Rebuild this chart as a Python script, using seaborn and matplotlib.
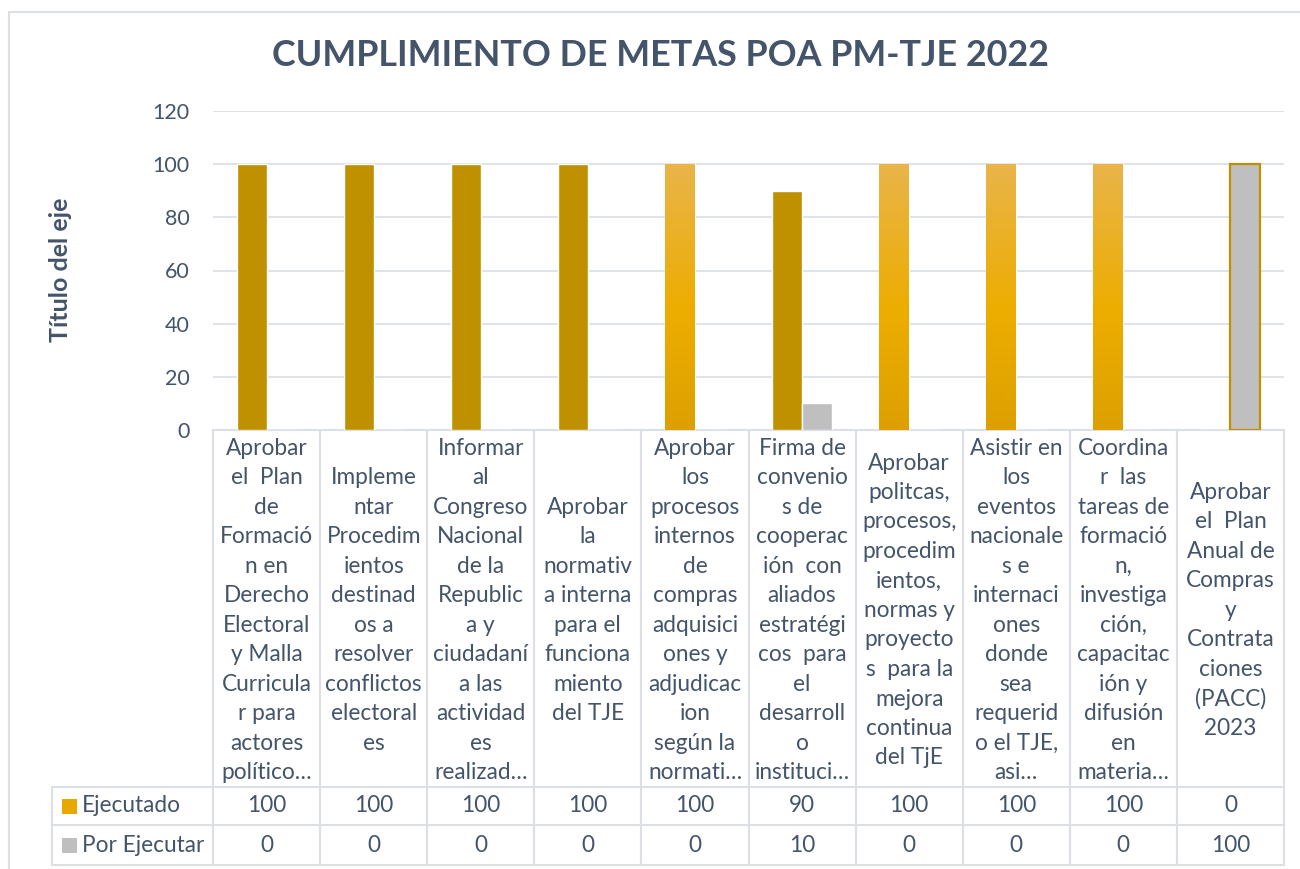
import numpy as np
import pandas as pd
import matplotlib
matplotlib.use("Agg")
import matplotlib.pyplot as plt
import matplotlib.transforms as mtransforms
from matplotlib.colors import LinearSegmentedColormap
import seaborn as sns

# ---------------- data ----------------
metas = [
    "Aprobar\nel  Plan\nde\nFormació\nn en\nDerecho\nElectoral\ny Malla\nCurricula\nr para\nactores\npolítico…",
    "Impleme\nntar\nProcedim\nientos\ndestinad\nos a\nresolver\nconflictos\nelectoral\nes",
    "Informar\nal\nCongreso\nNacional\nde la\nRepublic\na y\nciudadaní\na las\nactividad\nes\nrealizad…",
    "Aprobar\nla\nnormativ\na interna\npara el\nfunciona\nmiento\ndel TJE",
    "Aprobar\nlos\nprocesos\ninternos\nde\ncompras\nadquisici\nones y\nadjudicac\nion\nsegún la\nnormati…",
    "Firma de\nconvenio\ns de\ncooperac\nión  con\naliados\nestratégi\ncos  para\nel\ndesarroll\no\ninstituci…",
    "Aprobar\npolitcas,\nprocesos,\nprocedim\nientos,\nnormas y\nproyecto\ns  para la\nmejora\ncontinua\ndel TjE",
    "Asistir en\nlos\neventos\nnacionale\ns e\ninternaci\nones\ndonde\nsea\nrequerid\no el TJE,\nasi…",
    "Coordina\nr  las\ntareas de\nformació\nn,\ninvestiga\nción,\ncapacitac\nión y\ndifusión\nen\nmateria…",
    "Aprobar\nel  Plan\nAnual de\nCompras\ny\nContrata\nciones\n(PACC)\n2023",
]
ejecutado = [100, 100, 100, 100, 100, 90, 100, 100, 100, 0]
por_ejecutar = [0, 0, 0, 0, 0, 10, 0, 0, 0, 100]
series = ["Ejecutado", "Por Ejecutar"]
titulo = "CUMPLIMIENTO DE METAS POA PM-TJE 2022"
eje_y = "Título del eje"
y_ticks = [0, 20, 40, 60, 80, 100, 120]

# bars rendered with the lighter gradient fill in the original
gradient_bars = [4, 6, 7, 8]

# ---------------- styling ----------------
TXT = "#44546A"
GRID = "#DCE0E6"
C_EJ = "#BF9000"
C_POR = "#BFBFBF"

W, H = 1300, 869
DPI = 100

sns.set_theme(style="white")
plt.rcParams["font.family"] = ["Lato", "DejaVu Sans"]

ids = [f"m{i}" for i in range(len(metas))]
df = pd.DataFrame({
    "meta": ids * 2,
    "serie": [series[0]] * len(ids) + [series[1]] * len(ids),
    "valor": ejecutado + por_ejecutar,
})

fig = plt.figure(figsize=(W / DPI, H / DPI), dpi=DPI)

# plot area in pixels
L, R, T, B = 213, 1284, 111, 430
ax = fig.add_axes([L / W, 1 - B / H, (R - L) / W, (B - T) / H])

sns.barplot(data=df, x="meta", y="valor", hue="serie", order=ids,
            hue_order=series, palette={series[0]: C_EJ, series[1]: C_POR},
            width=0.56, legend=False, saturation=1, ax=ax, zorder=3)

ax.set_ylim(0, 120)
ax.set_xlim(-0.5, len(ids) - 0.5)
ax.set_yticks(y_ticks)
ax.yaxis.grid(True, color=GRID, lw=1.3, zorder=0)
ax.xaxis.grid(False)
for s in ax.spines.values():
    s.set_visible(False)
ax.tick_params(axis="y", length=0, pad=17, labelsize=15.5, labelcolor=TXT)
ax.tick_params(axis="x", length=0, labelbottom=False)
ax.set_xlabel("")
ax.set_ylabel("")

# gradient fill for the lighter bars
cmap = LinearSegmentedColormap.from_list(
    "g", [(0.0, "#DDA000"), (0.45, "#EDAD00"), (1.0, "#E9B44A")])
grad = np.linspace(0, 1, 256).reshape(-1, 1)
ej_bars = ax.containers[0]
por_bars = ax.containers[1]
for i in gradient_bars:
    p = ej_bars[i]
    x0, y0 = p.get_x(), p.get_y()
    w, h = p.get_width(), p.get_height()
    im = ax.imshow(grad, cmap=cmap, origin="lower", aspect="auto",
                   extent=(x0, x0 + w, y0, y0 + h), zorder=3.5)
    im.set_clip_path(p)
ax.set_xlim(-0.5, len(ids) - 0.5)
ax.set_ylim(0, 120)

# outlined grey bar of the last category
por_bars[len(ids) - 1].set_edgecolor(C_EJ)
por_bars[len(ids) - 1].set_linewidth(1.6)

# ---------------- data table ----------------
def ay(ypx):
    return (B - ypx) / (B - T)

trans = mtransforms.blended_transform_factory(ax.transData, ax.transAxes)
row1, row2, row3 = 787, 825, 865
HEAD_L = 52
line_kw = dict(color=GRID, lw=1.5, clip_on=False, zorder=1)

# horizontal lines
ax.plot([0, 1], [ay(B), ay(B)], transform=ax.transAxes, **line_kw)
for yy in (row1, row2, row3):
    x0 = (HEAD_L - L) / (R - L)
    ax.plot([x0, 1], [ay(yy), ay(yy)], transform=ax.transAxes, **line_kw)
# vertical lines
for k in range(len(ids) + 1):
    xv = k - 0.5
    ax.plot([xv, xv], [ay(B), ay(row3)], transform=trans, **line_kw)
xh = (HEAD_L - L) / (R - L)
ax.plot([xh, xh], [ay(row1), ay(row3)], transform=ax.transAxes, **line_kw)

FS = 16.3
for k, lab in enumerate(metas):
    ax.text(k, ay((B + row1) / 2 + 2), lab, transform=trans, ha="center",
            va="center", fontsize=FS, color=TXT, linespacing=1.50,
            clip_on=False)
    ax.text(k, ay((row1 + row2) / 2), f"{ejecutado[k]}", transform=trans,
            ha="center", va="center", fontsize=FS, color=TXT, clip_on=False)
    ax.text(k, ay((row2 + row3) / 2), f"{por_ejecutar[k]}", transform=trans,
            ha="center", va="center", fontsize=FS, color=TXT, clip_on=False)

# legend keys + row headers
for (yy0, yy1), name, col in [((row1, row2), series[0], "#E8A800"),
                              ((row2, row3), series[1], C_POR)]:
    yc = (yy0 + yy1) / 2
    fig.patches.append(plt.Rectangle((62 / W, 1 - (yc + 7.5) / H), 15 / W, 15 / H,
                                     transform=fig.transFigure, facecolor=col,
                                     edgecolor="none"))
    fig.text(82 / W, 1 - yc / H, name, ha="left", va="center", fontsize=FS,
             color=TXT)

# ---------------- titles ----------------
fig.text(660 / W, 1 - 56 / H, titulo, ha="center", va="center",
         fontsize=25.8, fontweight="bold", color=TXT)
fig.text(60 / W, 1 - 270 / H, eje_y, ha="center", va="center", rotation=90,
         fontsize=18, fontweight="bold", color=TXT)

# outer chart frame (top & left visible)
fig.add_artist(plt.Line2D([9 / W, 1], [1 - 12 / H, 1 - 12 / H],
                          transform=fig.transFigure, color=GRID, lw=1.5))
fig.add_artist(plt.Line2D([9 / W, 9 / W], [0, 1 - 12 / H],
                          transform=fig.transFigure, color=GRID, lw=1.5))

fig.savefig("out.png", dpi=DPI)
